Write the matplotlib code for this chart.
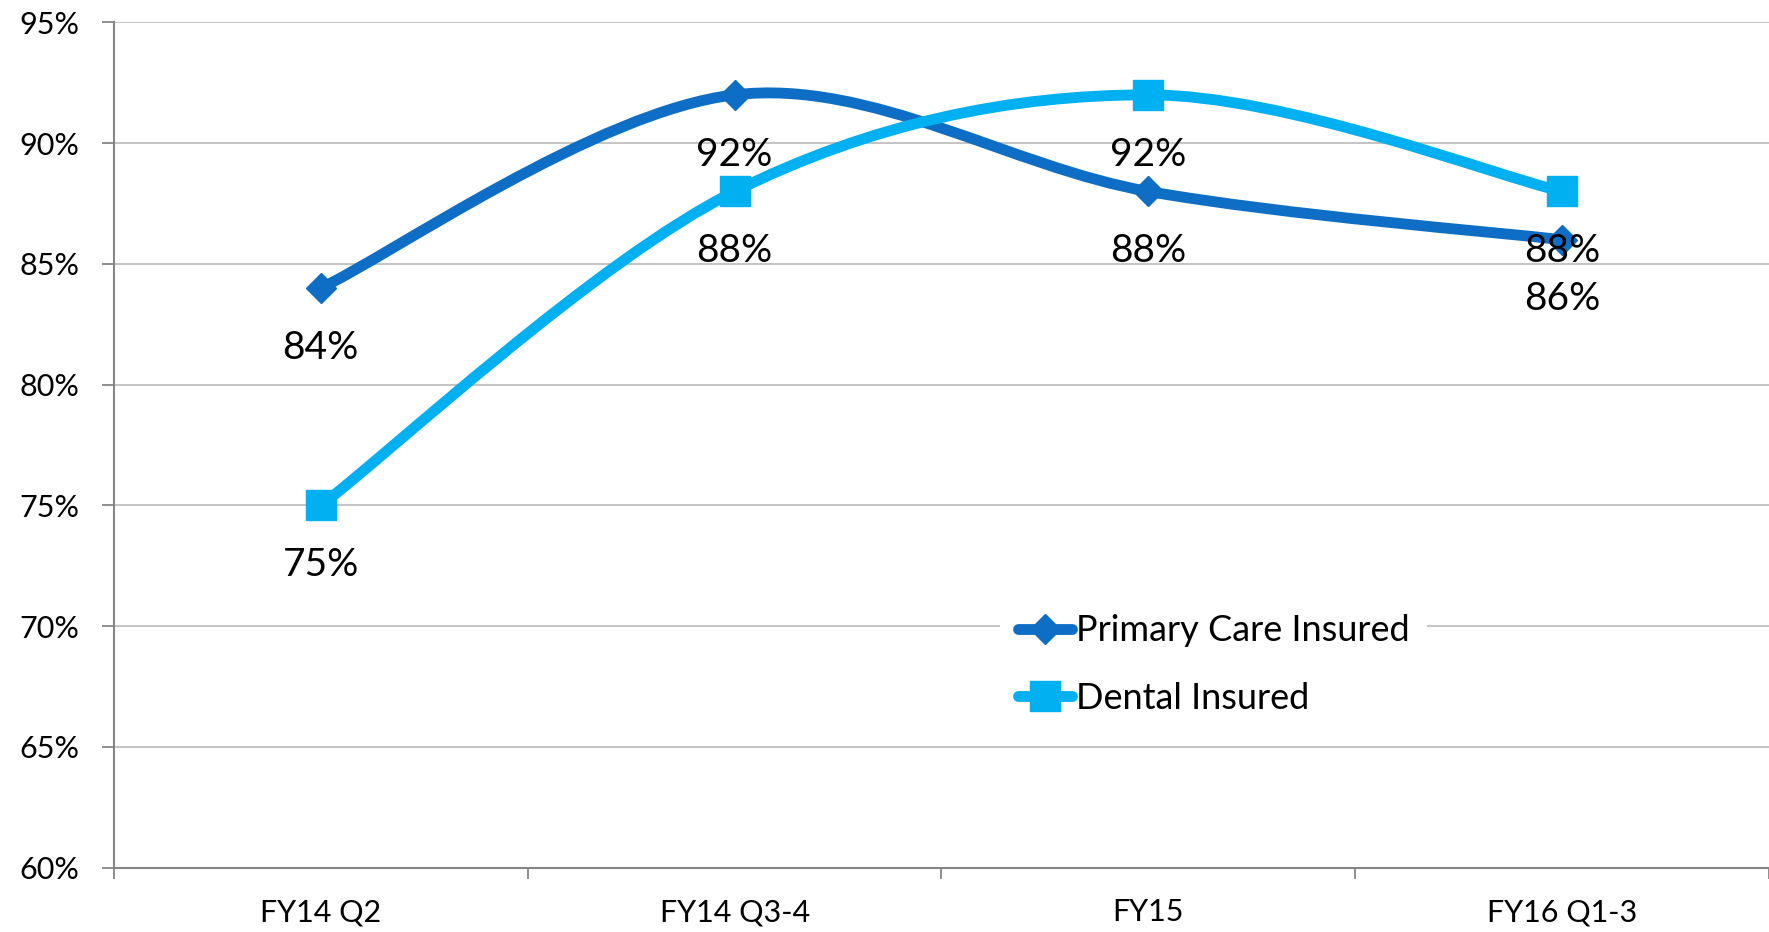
import matplotlib.pyplot as plt
from matplotlib.path import Path
from matplotlib.patches import PathPatch
from matplotlib.lines import Line2D

plt.rcParams['font.family'] = ['Lato', 'DejaVu Sans']

categories = ["FY14 Q2", "FY14 Q3-4", "FY15", "FY16 Q1-3"]
primary = [84, 92, 88, 86]
dental = [75, 88, 92, 88]

c_primary = "#0E6EC5"
c_dental = "#00B0F0"


def smooth_path(xs, ys):
    # excel-style smoothed line: bezier segments, catmull-rom control points
    pts = list(zip(xs, ys))
    verts = [pts[0]]
    codes = [Path.MOVETO]
    n = len(pts)
    for i in range(n - 1):
        p0 = pts[max(i - 1, 0)]
        p1 = pts[i]
        p2 = pts[i + 1]
        p3 = pts[min(i + 2, n - 1)]
        c1 = (p1[0] + (p2[0] - p0[0]) / 6, p1[1] + (p2[1] - p0[1]) / 6)
        c2 = (p2[0] - (p3[0] - p1[0]) / 6, p2[1] - (p3[1] - p1[1]) / 6)
        verts += [c1, c2, p2]
        codes += [Path.CURVE4] * 3
    return Path(verts, codes)


fig = plt.figure(figsize=(17.69, 9.32), dpi=100)
ax = fig.add_axes([0.0644, 0.069, 0.9356, 0.907])

x = list(range(len(categories)))
for ys, col, mk, ms in [(primary, c_primary, "D", 15), (dental, c_dental, "s", 21)]:
    ax.add_patch(PathPatch(smooth_path(x, ys), facecolor="none", edgecolor=col,
                           lw=7.8, capstyle="round", zorder=3))
    ax.plot(x, ys, linestyle="none", marker=mk, ms=ms, color=col, zorder=4)

for ys in (primary, dental):
    for xi, v in zip(x, ys):
        ax.annotate(f"{v}%", (xi, v), xytext=(0, -43), textcoords="offset points",
                    ha="center", va="center", fontsize=28, color="black", zorder=5)

ax.set_xlim(-0.5, 3.5)
ax.set_ylim(60, 95)
ax.set_yticks(range(60, 96, 5))
ax.set_yticklabels([f"{v}%" for v in range(60, 96, 5)])
ax.set_xticks(x)
ax.set_xticklabels(categories)
ax.set_xticks([-0.5, 0.5, 1.5, 2.5, 3.5], minor=True)
ax.tick_params(axis="x", which="major", length=0, pad=22, labelsize=22, labelcolor="black")
ax.tick_params(axis="x", which="minor", length=8, width=1.3, color="#868686")
ax.tick_params(axis="y", length=9, width=1.3, color="#868686", pad=16, labelsize=22,
               labelcolor="black")

ax.grid(axis="y", color="#BFBFBF", lw=1.3)
ax.set_axisbelow(True)
for s in ("top", "right"):
    ax.spines[s].set_visible(False)
for s in ("left", "bottom"):
    ax.spines[s].set_color("#868686")
    ax.spines[s].set_linewidth(1.5)

handles = [Line2D([], [], color=c_primary, lw=7.8, marker="D", ms=15, solid_capstyle="round"),
           Line2D([], [], color=c_dental, lw=7.8, marker="s", ms=21, solid_capstyle="round")]
leg = ax.legend(handles, ["Primary Care Insured", "Dental Insured"], loc="center",
                bbox_to_anchor=(0.686, 0.287), bbox_transform=fig.transFigure,
                frameon=True, fancybox=False, edgecolor="none", facecolor="white",
                framealpha=1, fontsize=26, handlelength=1.5, handletextpad=0.1,
                labelspacing=0.95, borderpad=0.5, numpoints=1)

fig.savefig("out.png", dpi=100)
